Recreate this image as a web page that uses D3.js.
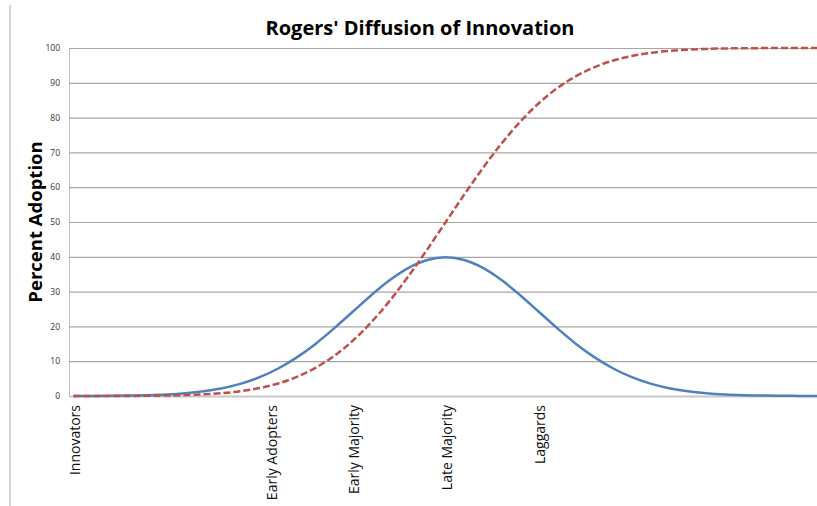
<!DOCTYPE html>
<html>
<head>
<meta charset="utf-8">
<script src="https://cdn.jsdelivr.net/npm/d3@7"></script>
<style>
  html, body { margin: 0; padding: 0; background: #fff; }
  svg { display: block; }
</style>
</head>
<body>
<svg id="chart" width="817" height="506"></svg>
<script>
// Position along the adoption curve, in standard deviations from the mean
const steps = [-4.0, -3.8, -3.6, -3.4, -3.2, -3.0, -2.8, -2.6, -2.4, -2.2,
               -2.0, -1.8, -1.6, -1.4, -1.2, -1.0, -0.8, -0.6, -0.4, -0.2,
                0.0,  0.2,  0.4,  0.6,  0.8,  1.0,  1.2,  1.4,  1.6,  1.8,
                2.0,  2.2,  2.4,  2.6,  2.8,  3.0,  3.2,  3.4,  3.6,  3.8, 4.0];

// Share of adopters at each step (bell curve)
const adopters = [0.01, 0.03, 0.06, 0.12, 0.24, 0.44, 0.79, 1.36, 2.24, 3.55,
                  5.40, 7.90, 11.09, 14.97, 19.42, 24.20, 28.97, 33.32, 36.83, 39.10,
                  39.89, 39.10, 36.83, 33.32, 28.97, 24.20, 19.42, 14.97, 11.09, 7.90,
                  5.40, 3.55, 2.24, 1.36, 0.79, 0.44, 0.24, 0.12, 0.06, 0.03, 0.01];

// Cumulative adoption (S-curve)
const cumulative = [0.00, 0.01, 0.02, 0.03, 0.07, 0.13, 0.26, 0.47, 0.82, 1.39,
                    2.28, 3.59, 5.48, 8.08, 11.51, 15.87, 21.19, 27.43, 34.46, 42.07,
                    50.00, 57.93, 65.54, 72.57, 78.81, 84.13, 88.49, 91.92, 94.52, 96.41,
                    97.72, 98.61, 99.18, 99.53, 99.74, 99.87, 99.93, 99.97, 99.98, 99.99, 100.00];

// Adopter categories and where they sit on the axis
const categoryNames = ["Innovators", "Early Adopters", "Early Majority", "Late Majority", "Laggards"];
const categoryAt = [-4.0, -1.88, -1.0, 0.0, 1.0];

const yTicks = [0, 10, 20, 30, 40, 50, 60, 70, 80, 90, 100];

const svg = d3.select("#chart");
const W = 817, H = 506;
const plot = { left: 69, top: 48, bottom: 396 };
const font = "'Open Sans', 'Liberation Sans', sans-serif";

const x = d3.scaleLinear().domain([-4, 4]).range([73.5, 818]);
const y = d3.scaleLinear().domain([0, 100]).range([plot.bottom, plot.top]);

// frame line on the left
svg.append("line")
  .attr("x1", 10).attr("x2", 10).attr("y1", 5).attr("y2", H)
  .attr("stroke", "#d4d4d4").attr("stroke-width", 2);

// horizontal gridlines
const yAxis = d3.axisLeft(y).tickValues(yTicks).tickSize(-(W - plot.left)).tickPadding(9);
const gy = svg.append("g").attr("transform", `translate(${plot.left},0)`).call(yAxis);
gy.select(".domain").attr("stroke", "#c0c0c0").attr("stroke-width", 1);
gy.selectAll(".tick line")
  .attr("stroke", d => d === 0 ? "#c8c8c8" : "#a6a6a6")
  .attr("stroke-width", d => d === 0 ? 2 : 1.2);
gy.selectAll(".tick text")
  .attr("font-family", font)
  .attr("font-size", 8.5)
  .attr("fill", "#333");

// category labels under the axis
const xAxis = d3.axisBottom(x).tickValues(categoryAt).tickSize(0)
  .tickFormat((d, i) => categoryNames[i]);
const gx = svg.append("g").attr("transform", `translate(0,${plot.bottom})`).call(xAxis);
gx.select(".domain").remove();
gx.selectAll(".tick text")
  .attr("font-family", font)
  .attr("font-size", 14)
  .attr("fill", "#111")
  .attr("text-anchor", "end")
  .attr("dominant-baseline", "central")
  .attr("dy", null)
  .attr("y", 0)
  .attr("transform", "translate(0,9) rotate(-90)");

// series lines
const line = vals => d3.line()
  .x((d, i) => x(steps[i]))
  .y(d => y(d))
  .curve(d3.curveMonotoneX)(vals);

svg.append("path")
  .attr("d", line(adopters))
  .attr("fill", "none")
  .attr("stroke", "#4f81bd")
  .attr("stroke-width", 2.5)
  .attr("stroke-linejoin", "round");

svg.append("path")
  .attr("d", line(cumulative))
  .attr("fill", "none")
  .attr("stroke", "#c0504d")
  .attr("stroke-width", 2.5)
  .attr("stroke-dasharray", "7,3");

// titles
svg.append("text")
  .attr("x", 420).attr("y", 35)
  .attr("text-anchor", "middle")
  .attr("font-family", font)
  .attr("font-weight", "bold")
  .attr("font-size", 20)
  .attr("fill", "#000")
  .text("Rogers' Diffusion of Innovation");

svg.append("text")
  .attr("transform", `translate(42,${(plot.top + plot.bottom) / 2}) rotate(-90)`)
  .attr("text-anchor", "middle")
  .attr("font-family", font)
  .attr("font-weight", "bold")
  .attr("font-size", 18.5)
  .attr("fill", "#000")
  .text("Percent Adoption");
</script>
</body>
</html>
